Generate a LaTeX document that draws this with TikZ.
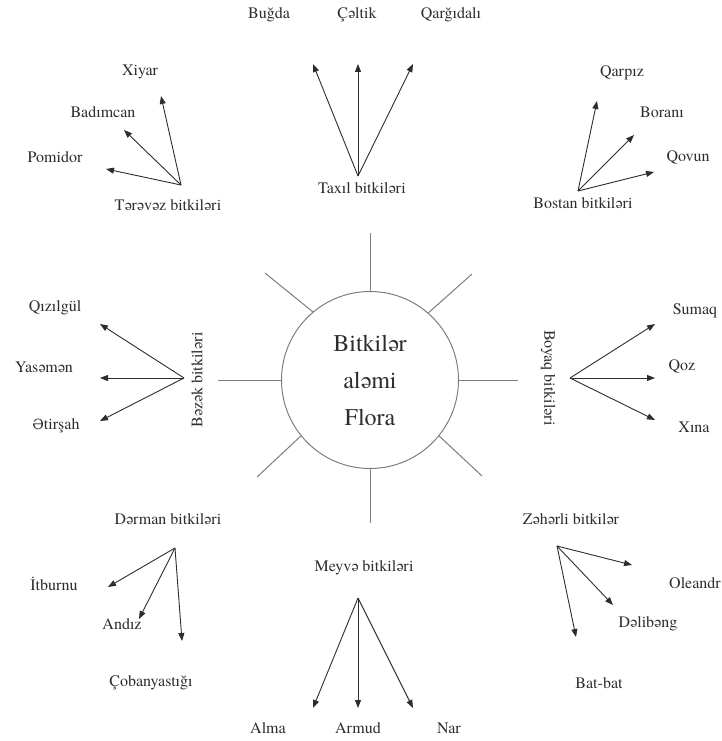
\documentclass[tikz,border=0pt]{standalone}
\usepackage{fontspec}
\setmainfont{texgyretermes}[Extension=.otf, UprightFont=*-regular]
\newfontfamily\schwafont{DejaVu Serif}[Scale=0.88]
\usetikzlibrary{arrows.meta}
\definecolor{spokecolor}{RGB}{125,125,125}
\definecolor{inkcolor}{RGB}{45,45,45}

\begin{document}
\begin{tikzpicture}[
    x=1pt, y=-1pt,
    word/.style={font=\fontsize{16}{18}\selectfont, text=inkcolor, inner sep=0pt},
    spoke/.style={draw=spokecolor, line width=1pt},
    arrow/.style={-{Triangle[length=8pt,width=6pt]}, draw=inkcolor, line width=0.9pt}
]
\useasboundingbox (0,0) rectangle (722,741);

% Center
\node[circle, draw=spokecolor, line width=1pt, minimum size=177pt, inner sep=0pt, align=center, font=\fontsize{24}{37}\selectfont, text=inkcolor] (flora) at (370,380) {Bitkilər\\aləmi\\Flora};

% Spokes
\coordinate (sN) at (370,233);
\coordinate (sS) at (370,523);
\coordinate (sW) at (218,380);
\coordinate (sE) at (518,380);
\coordinate (sNW) at (265,273);
\coordinate (sNE) at (472,274);
\coordinate (sSW) at (257,477);
\coordinate (sSE) at (482,476);
\draw[spoke] (flora.90) -- (sN);
\draw[spoke] (flora.270) -- (sS);
\draw[spoke] (flora.180) -- (sW);
\draw[spoke] (flora.0) -- (sE);
\draw[spoke] (flora.130) -- (sNW);
\draw[spoke] (flora.49) -- (sNE);
\draw[spoke] (flora.219) -- (sSW);
\draw[spoke] (flora.321) -- (sSE);

% Taxil
\node[word] (taxil) at (362,188) {Taxıl bitkiləri};
\coordinate (taxilhub) at (358,176);
\node[word] (bugda) at (269,15) {Buğda};
\node[word] (celtik) at (357,15) {Çəltik};
\node[word] (qargidali) at (451,15) {Qarğıdalı};
\coordinate (bugdatip) at (313,64);
\coordinate (celtiktip) at (358,64);
\coordinate (qargidalitip) at (413,64);
\draw[arrow] (taxilhub) -- (bugdatip);
\draw[arrow] (taxilhub) -- (celtiktip);
\draw[arrow] (taxilhub) -- (qargidalitip);

% Terevez
\node[word] (terevez) at (168,205) {Tərəvəz bitkiləri};
\coordinate (terevezhub) at (181,185);
\node[word] (xiyar) at (140,72) {Xiyar};
\node[word] (badimcan) at (103,112) {Badımcan};
\node[word] (pomidor) at (55,157) {Pomidor};
\coordinate (xiyartip) at (161,96);
\coordinate (badimcantip) at (124,130);
\coordinate (pomidortip) at (106,169);
\draw[arrow] (terevezhub) -- (xiyartip);
\draw[arrow] (terevezhub) -- (badimcantip);
\draw[arrow] (terevezhub) -- (pomidortip);

% Bostan
\node[word] (bostan) at (583,203) {Bostan bitkiləri};
\coordinate (bostanhub) at (578,191);
\node[word] (qarpiz) at (622,73) {Qarpız};
\node[word] (borani) at (662,112) {Boranı};
\node[word] (qovun) at (688,158) {Qovun};
\coordinate (qarpiztip) at (597,101);
\coordinate (boranitip) at (634,135);
\coordinate (qovuntip) at (654,172);
\draw[arrow] (bostanhub) -- (qarpiztip);
\draw[arrow] (bostanhub) -- (boranitip);
\draw[arrow] (bostanhub) -- (qovuntip);

% Bezek
\node[word, rotate=90] (bezek) at (197,380) {Bəzək bitkiləri};
\coordinate (bezekhub) at (184,378);
\node[word] (qizilgul) at (55,308) {Qızılgül};
\node[word] (yasemen) at (44,367) {Yasəmən};
\node[word] (etirsah) at (56,426) {{\schwafont Ə}tirşah};
\coordinate (qizilgultip) at (100,324);
\coordinate (yasementip) at (100,378);
\coordinate (etirsahtip) at (100,421);
\draw[arrow] (bezekhub) -- (qizilgultip);
\draw[arrow] (bezekhub) -- (yasementip);
\draw[arrow] (bezekhub) -- (etirsahtip);

% Boyaq
\node[word, rotate=-90] (boyaq) at (548,378) {Boyaq bitkiləri};
\coordinate (boyaqhub) at (570,378);
\node[word] (sumaq) at (695,311) {Sumaq};
\node[word] (qoz) at (682,367) {Qoz};
\node[word] (xina) at (694,427) {Xına};
\coordinate (sumaqtip) at (655,324);
\coordinate (qoztip) at (655,378);
\coordinate (xinatip) at (655,420);
\draw[arrow] (boyaqhub) -- (sumaqtip);
\draw[arrow] (boyaqhub) -- (qoztip);
\draw[arrow] (boyaqhub) -- (xinatip);

% Derman
\node[word] (derman) at (168,519) {Dərman bitkiləri};
\coordinate (dermanhub) at (175,548);
\node[word] (itburnu) at (54,584) {İtburnu};
\node[word] (andiz) at (122,624) {Andız};
\node[word] (cobanyastigi) at (151,683) {Çobanyastığı};
\coordinate (itburnutip) at (108,587);
\coordinate (andiztip) at (139,619);
\coordinate (cobanyastigitip) at (182,641);
\draw[arrow] (dermanhub) -- (itburnutip);
\draw[arrow] (dermanhub) -- (andiztip);
\draw[arrow] (dermanhub) -- (cobanyastigitip);

% Zeherli
\node[word] (zeherli) at (571,519) {Zəhərli bitkilər};
\coordinate (zeherlihub) at (557,546);
\node[word] (oleandr) at (695,583) {Oleandr};
\node[word] (delibeng) at (648,624) {Dəlibəng};
\node[word] (batbat) at (599,683) {Bat-bat};
\coordinate (oleandrtip) at (632,565);
\coordinate (delibengtip) at (613,605);
\coordinate (batbattip) at (576,637);
\draw[arrow] (zeherlihub) -- (oleandrtip);
\draw[arrow] (zeherlihub) -- (delibengtip);
\draw[arrow] (zeherlihub) -- (batbattip);

% Meyve
\node[word] (meyve) at (364,568) {Meyvə bitkiləri};
\coordinate (meyvehub) at (358,598);
\node[word] (alma) at (268,728) {Alma};
\node[word] (armud) at (358,728) {Armud};
\node[word] (nar) at (449,728) {Nar};
\coordinate (almatip) at (313,708);
\coordinate (armudtip) at (358,708);
\coordinate (nartip) at (413,708);
\draw[arrow] (meyvehub) -- (almatip);
\draw[arrow] (meyvehub) -- (armudtip);
\draw[arrow] (meyvehub) -- (nartip);

\end{tikzpicture}
\end{document}
